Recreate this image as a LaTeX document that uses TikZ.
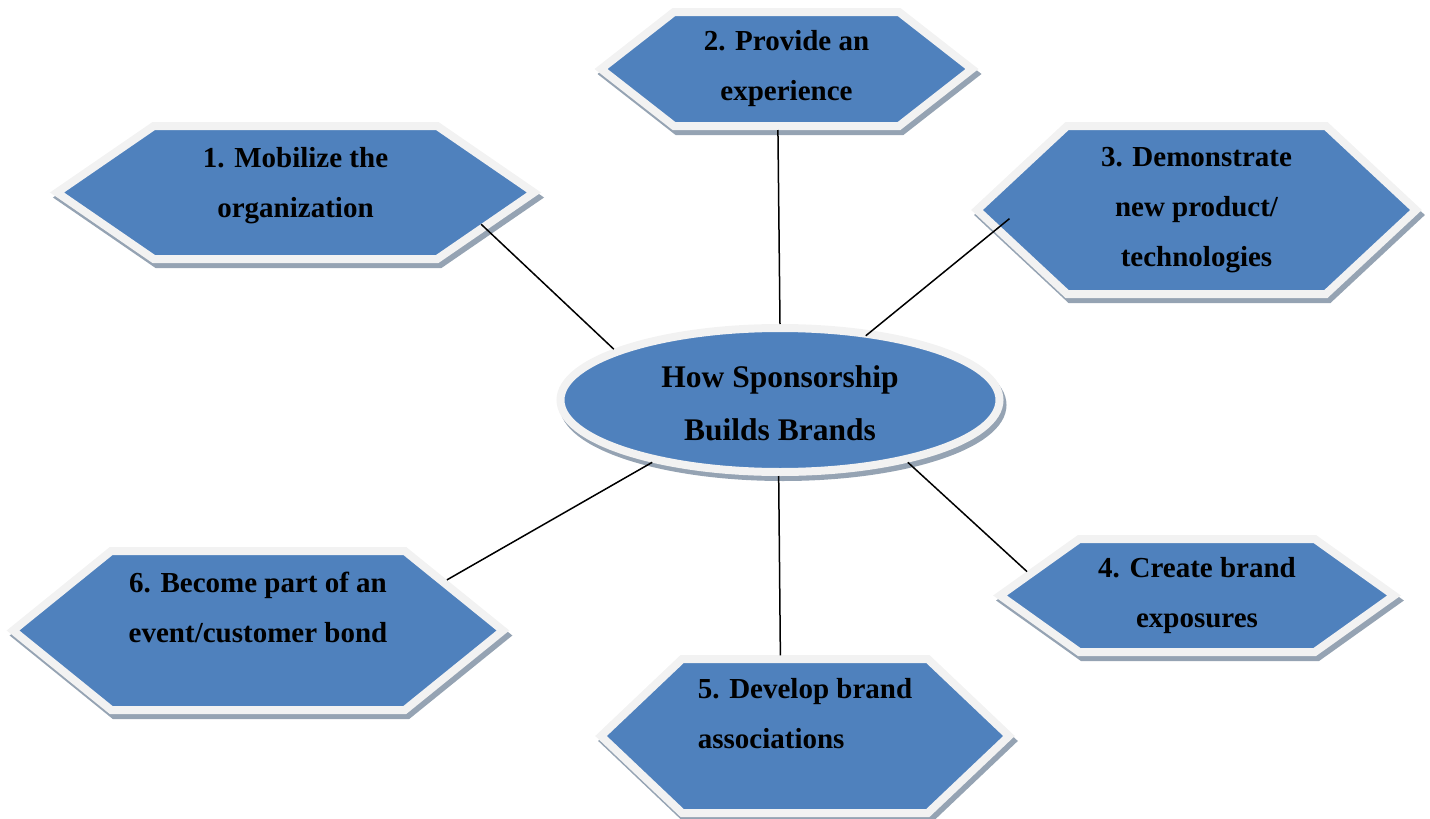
\documentclass[tikz,border=0pt]{standalone}
\usepackage{fontspec}
\setmainfont{Liberation Serif}
\usetikzlibrary{shapes.geometric,shapes.symbols}
\definecolor{hexblue}{RGB}{79,129,189}
\definecolor{rimgray}{RGB}{242,242,242}
\definecolor{shadegray}{RGB}{149,163,179}
\tikzset{plate/.style={draw=rimgray, line width=8pt, fill=hexblue,
  preaction={draw=shadegray, fill=shadegray, transform canvas={shift={(3pt,-5pt)}}},
  font=\fontsize{29}{50}\selectfont\bfseries, align=center, inner sep=0pt}}
\tikzset{hexbox/.style={plate, signal, signal to=east and west, signal pointer angle=#1}}
\tikzset{hub/.style={plate, ellipse, font=\fontsize{31.5}{53}\selectfont\bfseries}}
\tikzset{link/.style={draw=black, line width=1.5pt}}

\begin{document}
\begin{tikzpicture}[x=1pt, y=-1pt]
\useasboundingbox (0,0) rectangle (1430,819);
  \node[hub, minimum width=439pt, minimum height=144pt, text height=82pt] (core) at (780,400) {How Sponsorship\\Builds Brands};
  \node[hexbox=69, minimum width=477pt, minimum height=133pt, text depth=21pt] (h1) at (295.5,192.5) {1. Mobilize the\\organization};
  \node[hexbox=76, minimum width=371pt, minimum height=114pt] (h2) at (786.5,69) {2. Provide an\\experience};
  \node[hexbox=86, minimum width=439pt, minimum height=168pt] (h3) at (1196.5,210) {3. Demonstrate\\new product/\\technologies};
  \node[hexbox=71, minimum width=394pt, minimum height=113pt] (h4) at (1197,595.5) {4. Create brand\\exposures};
  \node[hexbox=87, minimum width=408pt, minimum height=154pt, text depth=45pt, align=left] (h5) at (805,736) {5. Develop brand\\associations};
  \node[hexbox=78, minimum width=490pt, minimum height=159pt, text depth=46pt] (h6) at (258,630.5) {6. Become part of an\\event/customer bond};
  % spokes
  \draw[link, shorten >=-8pt] (core.163) -- (h1.-11);
  \draw[link] (core.90) -- (h2.-98);
  \draw[link, shorten >=-20pt, shorten <=-8pt] (core.37) -- (h3.186);
  \draw[link] (core.-26) -- (h4.172);
  \draw[link] (core.-91) -- (h5.107);
  \draw[link] (core.206) -- (h6.15);
\end{tikzpicture}
\end{document}
